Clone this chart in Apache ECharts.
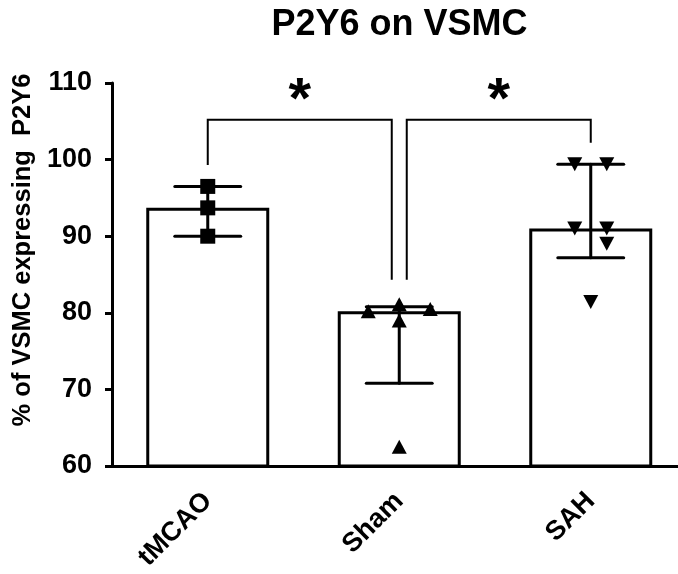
<!DOCTYPE html>
<html>
<head>
<meta charset="utf-8">
<script src="https://cdn.jsdelivr.net/npm/echarts@6/dist/echarts.min.js"></script>
<style>html,body{margin:0;padding:0;background:#fff}#c{width:678px;height:574px}</style>
</head>
<body>
<div id="c"></div>
<script>
// ---- data ----
const categories = ['tMCAO', 'Sham', 'SAH'];
const medianValues = [93.7, 80.2, 91.0];
const q1Values = [90.0, 70.8, 87.2];
const q3Values = [96.5, 80.8, 99.4];
const tmcaoPoints = [96.5, 93.7, 90.0];
const shamPoints = [80.2, 81.1, 80.5, 79.0, 62.5];
const sahPoints = [99.4, 99.4, 91.0, 91.0, 89.0, 81.4];
const yMin = 60, yMax = 110, yStep = 10;
const bracketFrom = [0, 1];
const bracketTo = [1, 2];
const bracketFromLeg = [99.3, 84.3];
const bracketToLeg = [84.3, 102.2];
const bracketTop = [105.2, 105.2];
const bracketLabels = ['*', '*'];

// ---- rendering ----
const FONT = '"Liberation Sans", Arial, sans-serif';
const chart = echarts.init(document.getElementById('c'));

// horizontal spread of points (pixels) per group, purely visual
const spread = [
  [0, 0, 0],
  [-31, 0, 31, 0, 0],
  [-16, 16, -16, 16, 16, 0]
];
const groups = [tmcaoPoints, shamPoints, sahPoints];
const pointSeries = groups.map((pts, g) => ({
  type: 'scatter',
  z: 5,
  symbol: g === 0 ? 'rect' : 'triangle',
  symbolSize: g === 0 ? 15 : [15, 14],
  symbolRotate: g === 2 ? 180 : 0,
  itemStyle: { color: '#000', opacity: 1 },
  silent: true,
  data: pts.map((v, i) => ({ value: [g, v], symbolOffset: [spread[g][i] || 0, 0] }))
}));

const errData = categories.map((c, i) => [i, q1Values[i], q3Values[i]]);
const bracketData = bracketFrom.map((f, i) => [f, bracketTo[i], bracketFromLeg[i], bracketTop[i], bracketToLeg[i], i]);

const option = {
  animation: false,
  backgroundColor: '#fff',
  grid: { left: 112, width: 574.5, top: 83, bottom: 108, containLabel: false, outerBoundsMode: 'none' },
  xAxis: {
    type: 'category',
    data: categories,
    axisLine: { lineStyle: { color: '#000', width: 3 } },
    axisTick: { alignWithLabel: true, length: 7, lineStyle: { color: '#000', width: 3 } },
    axisLabel: { rotate: 45, margin: 31, color: '#000', fontSize: 27, fontWeight: 'bold', fontFamily: FONT, interval: 0 },
    splitLine: { show: false }
  },
  yAxis: {
    type: 'value',
    min: yMin, max: yMax, interval: yStep,
    axisLine: { show: true, lineStyle: { color: '#000', width: 3 } },
    axisTick: { show: true, length: 7, lineStyle: { color: '#000', width: 3 } },
    axisLabel: { margin: 20, color: '#000', fontSize: 27, fontWeight: 'bold', fontFamily: FONT },
    splitLine: { show: false }
  },
  graphic: [
    { type: 'text', x: 399.5, y: 25, style: { text: 'P2Y6 on VSMC', font: 'bold 36px ' + FONT, fill: '#000', align: 'center', verticalAlign: 'middle' } },
    { type: 'text', x: 23, y: 250, rotation: Math.PI / 2, style: { text: '% of VSMC expressing  P2Y6', font: 'bold 25.5px ' + FONT, fill: '#000', align: 'center', verticalAlign: 'middle' } }
  ],
  series: [
    {
      type: 'bar',
      z: 2,
      barWidth: 123,
      data: medianValues,
      itemStyle: { color: '#fff', borderColor: '#000', borderWidth: 3 },
      silent: true
    },
    {
      type: 'custom',
      z: 3,
      silent: true,
      data: errData,
      renderItem: function (params, api) {
        const x = api.value(0);
        const lo = api.coord([x, api.value(1)]);
        const hi = api.coord([x, api.value(2)]);
        const half = api.size([1, 0])[0] * 0.172;
        const st = { stroke: '#000', lineWidth: 3, lineCap: 'round' };
        return {
          type: 'group',
          children: [
            { type: 'line', shape: { x1: lo[0], y1: lo[1], x2: hi[0], y2: hi[1] }, style: st },
            { type: 'line', shape: { x1: lo[0] - half, y1: lo[1], x2: lo[0] + half, y2: lo[1] }, style: st },
            { type: 'line', shape: { x1: hi[0] - half, y1: hi[1], x2: hi[0] + half, y2: hi[1] }, style: st }
          ]
        };
      }
    },
    ...pointSeries,
    {
      type: 'custom',
      z: 6,
      silent: true,
      data: bracketData,
      renderItem: function (params, api) {
        const f = api.value(0), t = api.value(1), idx = api.value(5);
        const p0 = api.coord([f, api.value(2)]);
        const p1 = api.coord([f, api.value(3)]);
        const p2 = api.coord([t, api.value(3)]);
        const p3 = api.coord([t, api.value(4)]);
        const gap = 7.5;
        let xf = p0[0], xt = p3[0];
        if (bracketTo.some((v, j) => j !== idx && v === f)) xf += gap;
        if (bracketFrom.some((v, j) => j !== idx && v === t)) xt -= gap;
        const mid = (xf + xt) / 2;
        return {
          type: 'group',
          children: [
            { type: 'polyline', shape: { points: [[xf, p0[1]], [xf, p1[1]], [xt, p2[1]], [xt, p3[1]]] }, style: { stroke: '#000', lineWidth: 2, fill: null } },
            { type: 'text', x: mid, y: p1[1] - 18, style: { text: bracketLabels[idx], font: 'bold 58px ' + FONT, fill: '#000', align: 'center', verticalAlign: 'middle' } }
          ]
        };
      }
    }
  ]
};
chart.setOption(option);
</script>
</body>
</html>
